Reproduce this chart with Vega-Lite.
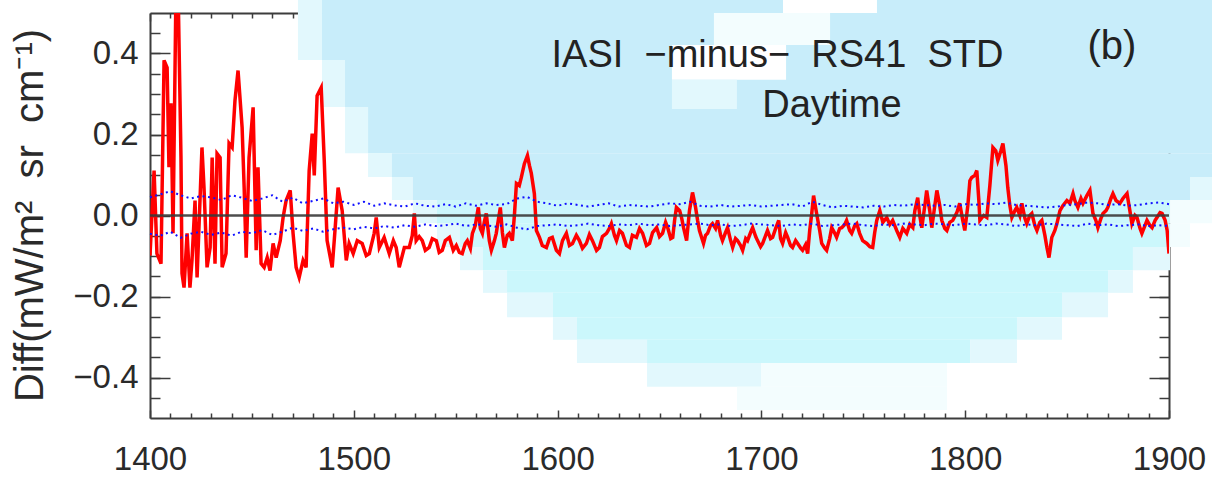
{
  "$schema": "https://vega.github.io/schema/vega-lite/v6.json",
  "width": 1019,
  "height": 405,
  "autosize": {"type": "none"},
  "padding": {"left": 150, "top": 13, "right": 43, "bottom": 61},
  "background": "white",
  "config": {
    "view": {"stroke": null},
    "axis": {
      "grid": false,
      "zindex": 1,
      "domainColor": "#3c3c3c",
      "domainWidth": 2,
      "tickColor": "#3c3c3c",
      "tickWidth": 1.5,
      "labelFont": "Liberation Sans, sans-serif",
      "labelFontSize": 33,
      "labelColor": "#2a2a2a",
      "labelFlush": false,
      "labelOverlap": false,
      "labelBound": false
    }
  },
  "datasets": {
    "bg": [
      {"x": 1472.6, "x2": 1484.4, "y": 0.384, "y2": 0.532, "s": "light"},
      {"x": 1484.4, "x2": 1921.1, "y": 0.384, "y2": 0.532, "s": "blue"},
      {"x": 1484.4, "x2": 1495.7, "y": 0.268, "y2": 0.384, "s": "light"},
      {"x": 1495.7, "x2": 1921.1, "y": 0.268, "y2": 0.384, "s": "blue"},
      {"x": 1495.7, "x2": 1507.0, "y": 0.154, "y2": 0.268, "s": "light"},
      {"x": 1507.0, "x2": 1921.1, "y": 0.154, "y2": 0.268, "s": "blue"},
      {"x": 1507.0, "x2": 1518.7, "y": 0.095, "y2": 0.154, "s": "light"},
      {"x": 1518.7, "x2": 1921.1, "y": 0.095, "y2": 0.154, "s": "blue"},
      {"x": 1518.7, "x2": 1529.0, "y": 0.038, "y2": 0.095, "s": "light"},
      {"x": 1529.0, "x2": 1910.3, "y": 0.038, "y2": 0.095, "s": "blue"},
      {"x": 1910.3, "x2": 1921.1, "y": 0.038, "y2": 0.095, "s": "light"},
      {"x": 1529.0, "x2": 1540.8, "y": -0.019, "y2": 0.038, "s": "light"},
      {"x": 1540.8, "x2": 1900.5, "y": -0.019, "y2": 0.038, "s": "blue2"},
      {"x": 1900.5, "x2": 1921.1, "y": -0.019, "y2": 0.038, "s": "pale"},
      {"x": 1540.8, "x2": 1552.1, "y": -0.078, "y2": -0.019, "s": "light"},
      {"x": 1552.1, "x2": 1900.5, "y": -0.078, "y2": -0.019, "s": "blue2"},
      {"x": 1900.5, "x2": 1910.3, "y": -0.078, "y2": -0.019, "s": "pale"},
      {"x": 1552.1, "x2": 1563.4, "y": -0.135, "y2": -0.078, "s": "light"},
      {"x": 1563.4, "x2": 1882.3, "y": -0.135, "y2": -0.078, "s": "blue2"},
      {"x": 1882.3, "x2": 1900.5, "y": -0.135, "y2": -0.078, "s": "light"},
      {"x": 1563.4, "x2": 1575.2, "y": -0.191, "y2": -0.135, "s": "light"},
      {"x": 1575.2, "x2": 1870.1, "y": -0.191, "y2": -0.135, "s": "blue2"},
      {"x": 1870.1, "x2": 1882.3, "y": -0.191, "y2": -0.135, "s": "light"},
      {"x": 1575.2, "x2": 1597.7, "y": -0.251, "y2": -0.191, "s": "light"},
      {"x": 1597.7, "x2": 1847.5, "y": -0.251, "y2": -0.191, "s": "blue2"},
      {"x": 1847.5, "x2": 1870.1, "y": -0.251, "y2": -0.191, "s": "light"},
      {"x": 1597.7, "x2": 1609.5, "y": -0.307, "y2": -0.251, "s": "light"},
      {"x": 1609.5, "x2": 1825.4, "y": -0.307, "y2": -0.251, "s": "blue2"},
      {"x": 1825.4, "x2": 1847.5, "y": -0.307, "y2": -0.251, "s": "light"},
      {"x": 1609.5, "x2": 1643.9, "y": -0.364, "y2": -0.307, "s": "light"},
      {"x": 1643.9, "x2": 1802.4, "y": -0.364, "y2": -0.307, "s": "blue2"},
      {"x": 1802.4, "x2": 1825.4, "y": -0.364, "y2": -0.307, "s": "light"},
      {"x": 1643.9, "x2": 1700.0, "y": -0.423, "y2": -0.364, "s": "light"},
      {"x": 1700.0, "x2": 1791.1, "y": -0.423, "y2": -0.364, "s": "pale"},
      {"x": 1688.0, "x2": 1791.1, "y": -0.480, "y2": -0.423, "s": "pale"},
      {"x": 1710.6, "x2": 1756.7, "y": 0.500, "y2": 0.532, "s": "white"},
      {"x": 1676.7, "x2": 1733.7, "y": 0.421, "y2": 0.500, "s": "pale"},
      {"x": 1656.1, "x2": 1712.1, "y": 0.335, "y2": 0.421, "s": "white"},
      {"x": 1656.1, "x2": 1688.0, "y": 0.263, "y2": 0.335, "s": "light"}
    ],
    "diff": [
      {"w": 1400.0, "d": -0.099}, {"w": 1402.0, "d": 0.111}, {"w": 1403.4, "d": -0.094}, {"w": 1405.4, "d": -0.119},
      {"w": 1406.9, "d": 0.383}, {"w": 1408.4, "d": 0.365}, {"w": 1409.3, "d": 0.119}, {"w": 1410.3, "d": 0.277},
      {"w": 1411.3, "d": -0.044}, {"w": 1412.8, "d": 0.58}, {"w": 1413.8, "d": 0.556}, {"w": 1415.2, "d": 0.143},
      {"w": 1415.7, "d": -0.143}, {"w": 1416.7, "d": -0.178}, {"w": 1418.2, "d": -0.044}, {"w": 1419.6, "d": -0.178},
      {"w": 1420.6, "d": -0.111}, {"w": 1422.1, "d": 0.037}, {"w": 1423.1, "d": -0.153}, {"w": 1425.5, "d": 0.168},
      {"w": 1426.5, "d": 0.069}, {"w": 1428.0, "d": -0.128}, {"w": 1429.5, "d": -0.079}, {"w": 1430.5, "d": 0.143},
      {"w": 1431.9, "d": -0.119}, {"w": 1432.9, "d": 0.153}, {"w": 1434.4, "d": 0.143}, {"w": 1435.4, "d": -0.128},
      {"w": 1437.3, "d": -0.094}, {"w": 1438.8, "d": 0.178}, {"w": 1440.3, "d": 0.168}, {"w": 1441.7, "d": 0.284},
      {"w": 1443.2, "d": 0.358}, {"w": 1445.2, "d": 0.217}, {"w": 1446.2, "d": 0.069}, {"w": 1447.2, "d": -0.104},
      {"w": 1448.6, "d": 0.143}, {"w": 1450.6, "d": 0.267}, {"w": 1452.1, "d": -0.086}, {"w": 1453.0, "d": 0.119},
      {"w": 1454.5, "d": -0.119}, {"w": 1456.0, "d": -0.128}, {"w": 1457.5, "d": -0.104}, {"w": 1458.9, "d": -0.136},
      {"w": 1460.4, "d": -0.069}, {"w": 1461.9, "d": -0.104}, {"w": 1463.9, "d": -0.062}, {"w": 1465.3, "d": -0.005},
      {"w": 1466.8, "d": 0.037}, {"w": 1468.8, "d": 0.062}, {"w": 1470.2, "d": -0.044}, {"w": 1471.7, "d": -0.128},
      {"w": 1473.2, "d": -0.153}, {"w": 1475.1, "d": -0.111}, {"w": 1476.6, "d": -0.128}, {"w": 1478.1, "d": 0.111},
      {"w": 1479.6, "d": 0.202}, {"w": 1480.6, "d": 0.099}, {"w": 1482.0, "d": 0.296}, {"w": 1484.0, "d": 0.316},
      {"w": 1485.5, "d": 0.136}, {"w": 1486.9, "d": -0.062}, {"w": 1489.4, "d": -0.128}, {"w": 1490.4, "d": -0.062},
      {"w": 1492.3, "d": 0.069}, {"w": 1494.3, "d": 0.012}, {"w": 1496.3, "d": -0.111}, {"w": 1497.7, "d": -0.069},
      {"w": 1499.7, "d": -0.094}, {"w": 1501.7, "d": -0.062}, {"w": 1504.1, "d": -0.069}, {"w": 1506.1, "d": -0.099},
      {"w": 1507.6, "d": -0.094}, {"w": 1510.0, "d": -0.044}, {"w": 1511.0, "d": -0.005}, {"w": 1512.5, "d": -0.079},
      {"w": 1514.9, "d": -0.054}, {"w": 1517.4, "d": -0.094}, {"w": 1519.4, "d": -0.062}, {"w": 1520.8, "d": -0.079},
      {"w": 1522.3, "d": -0.128}, {"w": 1524.8, "d": -0.079}, {"w": 1527.2, "d": -0.079}, {"w": 1528.7, "d": -0.049},
      {"w": 1529.7, "d": 0.005}, {"w": 1530.6, "d": -0.062}, {"w": 1532.1, "d": -0.052}, {"w": 1533.6, "d": -0.062},
      {"w": 1535.1, "d": -0.086}, {"w": 1537.0, "d": -0.079}, {"w": 1538.5, "d": -0.057}, {"w": 1540.5, "d": -0.062},
      {"w": 1541.9, "d": -0.091}, {"w": 1543.4, "d": -0.086}, {"w": 1544.9, "d": -0.062}, {"w": 1546.9, "d": -0.054},
      {"w": 1548.8, "d": -0.086}, {"w": 1550.3, "d": -0.074}, {"w": 1551.8, "d": -0.091}, {"w": 1553.2, "d": -0.094},
      {"w": 1554.7, "d": -0.069}, {"w": 1555.7, "d": -0.062}, {"w": 1557.2, "d": -0.081}, {"w": 1558.2, "d": -0.044},
      {"w": 1559.6, "d": -0.025}, {"w": 1561.1, "d": 0.020}, {"w": 1562.1, "d": -0.032}, {"w": 1563.1, "d": -0.044},
      {"w": 1564.0, "d": -0.017}, {"w": 1565.0, "d": 0.005}, {"w": 1566.5, "d": -0.062}, {"w": 1567.5, "d": -0.086},
      {"w": 1569.0, "d": -0.062}, {"w": 1569.9, "d": -0.044}, {"w": 1570.9, "d": -0.012}, {"w": 1571.9, "d": 0.020},
      {"w": 1572.9, "d": -0.042}, {"w": 1573.9, "d": -0.079}, {"w": 1575.3, "d": -0.049}, {"w": 1576.3, "d": -0.044},
      {"w": 1577.8, "d": -0.062}, {"w": 1578.8, "d": 0.000}, {"w": 1579.8, "d": 0.079}, {"w": 1581.2, "d": 0.074},
      {"w": 1582.2, "d": 0.094}, {"w": 1583.7, "d": 0.128}, {"w": 1585.2, "d": 0.148}, {"w": 1586.2, "d": 0.123},
      {"w": 1587.1, "d": 0.104}, {"w": 1588.6, "d": 0.054}, {"w": 1589.6, "d": -0.037}, {"w": 1591.1, "d": -0.054},
      {"w": 1592.5, "d": -0.074}, {"w": 1594.5, "d": -0.079}, {"w": 1596.0, "d": -0.057}, {"w": 1597.4, "d": -0.054},
      {"w": 1599.4, "d": -0.086}, {"w": 1600.9, "d": -0.094}, {"w": 1602.4, "d": -0.062}, {"w": 1604.3, "d": -0.044},
      {"w": 1605.8, "d": -0.074}, {"w": 1607.3, "d": -0.069}, {"w": 1609.2, "d": -0.049}, {"w": 1610.7, "d": -0.062},
      {"w": 1612.2, "d": -0.081}, {"w": 1614.1, "d": -0.069}, {"w": 1615.6, "d": -0.047}, {"w": 1617.1, "d": -0.062},
      {"w": 1619.1, "d": -0.086}, {"w": 1620.5, "d": -0.079}, {"w": 1622.0, "d": -0.052}, {"w": 1624.0, "d": -0.044},
      {"w": 1625.4, "d": -0.032}, {"w": 1626.4, "d": -0.020}, {"w": 1627.9, "d": -0.049}, {"w": 1628.9, "d": -0.062},
      {"w": 1630.4, "d": -0.037}, {"w": 1631.8, "d": -0.044}, {"w": 1633.8, "d": -0.074}, {"w": 1635.3, "d": -0.079},
      {"w": 1636.7, "d": -0.049}, {"w": 1638.7, "d": -0.054}, {"w": 1640.2, "d": -0.032}, {"w": 1641.7, "d": -0.044},
      {"w": 1643.6, "d": -0.074}, {"w": 1645.1, "d": -0.069}, {"w": 1646.6, "d": -0.042}, {"w": 1648.6, "d": -0.030},
      {"w": 1650.0, "d": -0.052}, {"w": 1651.5, "d": -0.044}, {"w": 1653.0, "d": -0.017}, {"w": 1654.0, "d": -0.030},
      {"w": 1655.5, "d": -0.057}, {"w": 1656.5, "d": -0.054}, {"w": 1657.4, "d": -0.012}, {"w": 1658.3, "d": 0.020},
      {"w": 1659.9, "d": 0.012}, {"w": 1660.9, "d": -0.007}, {"w": 1661.8, "d": -0.030}, {"w": 1663.3, "d": -0.062},
      {"w": 1664.7, "d": 0.012}, {"w": 1666.2, "d": 0.057}, {"w": 1667.7, "d": 0.020}, {"w": 1668.7, "d": -0.012},
      {"w": 1669.6, "d": -0.037}, {"w": 1671.6, "d": -0.069}, {"w": 1672.6, "d": -0.049}, {"w": 1673.6, "d": -0.044},
      {"w": 1675.0, "d": -0.025}, {"w": 1676.0, "d": -0.020}, {"w": 1677.5, "d": -0.032}, {"w": 1678.5, "d": -0.012},
      {"w": 1680.0, "d": -0.049}, {"w": 1680.9, "d": -0.062}, {"w": 1682.4, "d": -0.042}, {"w": 1683.4, "d": -0.030},
      {"w": 1684.9, "d": -0.062}, {"w": 1685.9, "d": -0.079}, {"w": 1687.3, "d": -0.057}, {"w": 1688.3, "d": -0.062},
      {"w": 1689.8, "d": -0.074}, {"w": 1690.8, "d": -0.086}, {"w": 1692.3, "d": -0.057}, {"w": 1693.2, "d": -0.062},
      {"w": 1694.7, "d": -0.042}, {"w": 1695.7, "d": -0.030}, {"w": 1697.2, "d": -0.052}, {"w": 1698.1, "d": -0.062},
      {"w": 1699.6, "d": -0.077}, {"w": 1700.6, "d": -0.069}, {"w": 1702.1, "d": -0.049}, {"w": 1703.0, "d": -0.037},
      {"w": 1704.5, "d": -0.057}, {"w": 1705.5, "d": -0.054}, {"w": 1707.0, "d": -0.032}, {"w": 1708.5, "d": -0.012},
      {"w": 1709.4, "d": -0.057}, {"w": 1710.4, "d": -0.069}, {"w": 1711.9, "d": -0.042}, {"w": 1712.9, "d": -0.054},
      {"w": 1714.3, "d": -0.074}, {"w": 1715.3, "d": -0.079}, {"w": 1716.8, "d": -0.062}, {"w": 1717.8, "d": -0.069},
      {"w": 1719.3, "d": -0.081}, {"w": 1720.2, "d": -0.086}, {"w": 1721.7, "d": -0.072}, {"w": 1722.7, "d": -0.094},
      {"w": 1723.7, "d": -0.037}, {"w": 1724.7, "d": 0.005}, {"w": 1725.6, "d": 0.049}, {"w": 1727.1, "d": 0.005},
      {"w": 1728.6, "d": -0.037}, {"w": 1729.6, "d": -0.069}, {"w": 1731.1, "d": -0.081}, {"w": 1732.0, "d": -0.086},
      {"w": 1733.5, "d": -0.057}, {"w": 1734.5, "d": -0.030}, {"w": 1736.0, "d": -0.044}, {"w": 1736.9, "d": -0.054},
      {"w": 1738.4, "d": -0.032}, {"w": 1739.4, "d": -0.030}, {"w": 1740.9, "d": -0.022}, {"w": 1741.8, "d": -0.012},
      {"w": 1743.3, "d": -0.037}, {"w": 1744.3, "d": -0.044}, {"w": 1745.8, "d": -0.025}, {"w": 1746.8, "d": -0.020},
      {"w": 1748.2, "d": -0.044}, {"w": 1749.7, "d": -0.062}, {"w": 1751.7, "d": -0.069}, {"w": 1753.2, "d": -0.077},
      {"w": 1754.6, "d": -0.079}, {"w": 1755.6, "d": -0.042}, {"w": 1756.6, "d": -0.012}, {"w": 1758.1, "d": 0.012},
      {"w": 1759.6, "d": -0.017}, {"w": 1761.5, "d": -0.005}, {"w": 1763.0, "d": -0.022}, {"w": 1764.4, "d": -0.012},
      {"w": 1766.4, "d": -0.037}, {"w": 1767.9, "d": -0.054}, {"w": 1769.4, "d": -0.032}, {"w": 1771.3, "d": -0.044},
      {"w": 1772.8, "d": -0.022}, {"w": 1774.3, "d": -0.030}, {"w": 1775.3, "d": 0.012}, {"w": 1776.7, "d": 0.044},
      {"w": 1777.7, "d": 0.000}, {"w": 1778.7, "d": -0.030}, {"w": 1780.2, "d": 0.025}, {"w": 1781.1, "d": 0.062},
      {"w": 1782.6, "d": 0.012}, {"w": 1783.6, "d": -0.030}, {"w": 1785.1, "d": 0.025}, {"w": 1786.1, "d": 0.062},
      {"w": 1787.5, "d": 0.025}, {"w": 1788.5, "d": -0.012}, {"w": 1790.0, "d": -0.032}, {"w": 1791.0, "d": -0.037},
      {"w": 1792.4, "d": -0.017}, {"w": 1793.9, "d": -0.012}, {"w": 1795.9, "d": 0.007}, {"w": 1797.3, "d": 0.030},
      {"w": 1798.8, "d": -0.012}, {"w": 1799.8, "d": -0.037}, {"w": 1801.3, "d": 0.025}, {"w": 1802.3, "d": 0.086},
      {"w": 1803.2, "d": 0.094}, {"w": 1804.7, "d": 0.099}, {"w": 1805.7, "d": 0.111}, {"w": 1806.7, "d": 0.037},
      {"w": 1807.2, "d": -0.012}, {"w": 1809.1, "d": 0.000}, {"w": 1810.6, "d": -0.005}, {"w": 1812.1, "d": 0.074},
      {"w": 1813.6, "d": 0.168}, {"w": 1815.0, "d": 0.160}, {"w": 1816.0, "d": 0.136}, {"w": 1817.5, "d": 0.160},
      {"w": 1818.5, "d": 0.178}, {"w": 1820.0, "d": 0.123}, {"w": 1820.9, "d": 0.069}, {"w": 1821.9, "d": 0.025},
      {"w": 1822.9, "d": -0.005}, {"w": 1824.4, "d": 0.012}, {"w": 1825.3, "d": 0.020}, {"w": 1826.8, "d": 0.000},
      {"w": 1827.8, "d": 0.030}, {"w": 1829.3, "d": -0.007}, {"w": 1830.2, "d": -0.020}, {"w": 1831.7, "d": 0.000},
      {"w": 1832.7, "d": 0.005}, {"w": 1834.2, "d": -0.025}, {"w": 1835.2, "d": -0.037}, {"w": 1836.6, "d": -0.017},
      {"w": 1837.6, "d": -0.012}, {"w": 1839.1, "d": -0.049}, {"w": 1840.1, "d": -0.079}, {"w": 1841.1, "d": -0.104},
      {"w": 1842.5, "d": -0.054}, {"w": 1844.0, "d": -0.037}, {"w": 1845.0, "d": -0.020}, {"w": 1846.5, "d": 0.012},
      {"w": 1848.0, "d": 0.025}, {"w": 1849.9, "d": 0.037}, {"w": 1851.4, "d": 0.030}, {"w": 1852.9, "d": 0.054},
      {"w": 1853.8, "d": 0.037}, {"w": 1855.3, "d": 0.020}, {"w": 1856.8, "d": 0.042}, {"w": 1857.8, "d": 0.030},
      {"w": 1859.7, "d": 0.049}, {"w": 1861.2, "d": 0.062}, {"w": 1862.7, "d": 0.005}, {"w": 1864.1, "d": -0.012},
      {"w": 1865.1, "d": -0.030}, {"w": 1866.6, "d": -0.007}, {"w": 1867.6, "d": 0.005}, {"w": 1869.1, "d": 0.012},
      {"w": 1870.0, "d": 0.020}, {"w": 1871.5, "d": 0.042}, {"w": 1872.5, "d": 0.054}, {"w": 1874.0, "d": 0.037},
      {"w": 1875.9, "d": 0.030}, {"w": 1877.4, "d": 0.042}, {"w": 1879.4, "d": 0.054}, {"w": 1880.8, "d": 0.012},
      {"w": 1881.8, "d": -0.020}, {"w": 1883.3, "d": 0.000}, {"w": 1884.3, "d": -0.005}, {"w": 1885.8, "d": -0.032},
      {"w": 1886.7, "d": -0.044}, {"w": 1888.2, "d": -0.025}, {"w": 1889.2, "d": -0.012}, {"w": 1890.7, "d": -0.025},
      {"w": 1891.7, "d": -0.030}, {"w": 1893.2, "d": -0.012}, {"w": 1894.1, "d": -0.005}, {"w": 1895.6, "d": 0.007},
      {"w": 1896.6, "d": 0.005}, {"w": 1898.1, "d": -0.012}, {"w": 1899.1, "d": -0.037}, {"w": 1900.0, "d": -0.094}
    ],
    "std": [
      {"w": 1400, "hi": 0.045, "lo": -0.045}, {"w": 1405, "hi": 0.052, "lo": -0.050}, {"w": 1410, "hi": 0.060, "lo": -0.040},
      {"w": 1415, "hi": 0.050, "lo": -0.055}, {"w": 1420, "hi": 0.042, "lo": -0.045}, {"w": 1425, "hi": 0.048, "lo": -0.040},
      {"w": 1430, "hi": 0.045, "lo": -0.048}, {"w": 1435, "hi": 0.038, "lo": -0.042}, {"w": 1440, "hi": 0.050, "lo": -0.050},
      {"w": 1445, "hi": 0.044, "lo": -0.040}, {"w": 1450, "hi": 0.036, "lo": -0.044}, {"w": 1455, "hi": 0.042, "lo": -0.036},
      {"w": 1460, "hi": 0.050, "lo": -0.048}, {"w": 1465, "hi": 0.034, "lo": -0.040}, {"w": 1470, "hi": 0.044, "lo": -0.030},
      {"w": 1475, "hi": 0.030, "lo": -0.038}, {"w": 1480, "hi": 0.036, "lo": -0.032}, {"w": 1485, "hi": 0.042, "lo": -0.040},
      {"w": 1490, "hi": 0.030, "lo": -0.034}, {"w": 1495, "hi": 0.034, "lo": -0.030}, {"w": 1500, "hi": 0.026, "lo": -0.034},
      {"w": 1505, "hi": 0.034, "lo": -0.028}, {"w": 1510, "hi": 0.024, "lo": -0.032}, {"w": 1515, "hi": 0.030, "lo": -0.026},
      {"w": 1520, "hi": 0.025, "lo": -0.030}, {"w": 1525, "hi": 0.022, "lo": -0.024}, {"w": 1530, "hi": 0.030, "lo": -0.028},
      {"w": 1535, "hi": 0.024, "lo": -0.022}, {"w": 1540, "hi": 0.022, "lo": -0.026}, {"w": 1545, "hi": 0.028, "lo": -0.024},
      {"w": 1550, "hi": 0.022, "lo": -0.020}, {"w": 1555, "hi": 0.030, "lo": -0.026}, {"w": 1560, "hi": 0.024, "lo": -0.022},
      {"w": 1565, "hi": 0.030, "lo": -0.024}, {"w": 1570, "hi": 0.026, "lo": -0.028}, {"w": 1575, "hi": 0.028, "lo": -0.022},
      {"w": 1580, "hi": 0.042, "lo": -0.030}, {"w": 1585, "hi": 0.046, "lo": -0.034}, {"w": 1590, "hi": 0.034, "lo": -0.026},
      {"w": 1595, "hi": 0.030, "lo": -0.024}, {"w": 1600, "hi": 0.024, "lo": -0.022}, {"w": 1605, "hi": 0.030, "lo": -0.026},
      {"w": 1610, "hi": 0.026, "lo": -0.024}, {"w": 1615, "hi": 0.022, "lo": -0.020}, {"w": 1620, "hi": 0.026, "lo": -0.024},
      {"w": 1625, "hi": 0.030, "lo": -0.026}, {"w": 1630, "hi": 0.022, "lo": -0.022}, {"w": 1635, "hi": 0.026, "lo": -0.024},
      {"w": 1640, "hi": 0.024, "lo": -0.020}, {"w": 1645, "hi": 0.022, "lo": -0.024}, {"w": 1650, "hi": 0.026, "lo": -0.022},
      {"w": 1655, "hi": 0.030, "lo": -0.026}, {"w": 1660, "hi": 0.028, "lo": -0.024}, {"w": 1665, "hi": 0.034, "lo": -0.022},
      {"w": 1670, "hi": 0.024, "lo": -0.020}, {"w": 1675, "hi": 0.022, "lo": -0.024}, {"w": 1680, "hi": 0.026, "lo": -0.022},
      {"w": 1685, "hi": 0.022, "lo": -0.026}, {"w": 1690, "hi": 0.024, "lo": -0.024}, {"w": 1695, "hi": 0.026, "lo": -0.020},
      {"w": 1700, "hi": 0.022, "lo": -0.022}, {"w": 1705, "hi": 0.024, "lo": -0.024}, {"w": 1710, "hi": 0.026, "lo": -0.026},
      {"w": 1715, "hi": 0.028, "lo": -0.022}, {"w": 1720, "hi": 0.022, "lo": -0.024}, {"w": 1725, "hi": 0.034, "lo": -0.020},
      {"w": 1730, "hi": 0.026, "lo": -0.026}, {"w": 1735, "hi": 0.020, "lo": -0.024}, {"w": 1740, "hi": 0.024, "lo": -0.022},
      {"w": 1745, "hi": 0.022, "lo": -0.020}, {"w": 1750, "hi": 0.020, "lo": -0.024}, {"w": 1755, "hi": 0.024, "lo": -0.026},
      {"w": 1760, "hi": 0.022, "lo": -0.022}, {"w": 1765, "hi": 0.026, "lo": -0.024}, {"w": 1770, "hi": 0.024, "lo": -0.020},
      {"w": 1775, "hi": 0.028, "lo": -0.022}, {"w": 1780, "hi": 0.026, "lo": -0.024}, {"w": 1785, "hi": 0.024, "lo": -0.020},
      {"w": 1790, "hi": 0.026, "lo": -0.022}, {"w": 1795, "hi": 0.022, "lo": -0.024}, {"w": 1800, "hi": 0.028, "lo": -0.020},
      {"w": 1805, "hi": 0.026, "lo": -0.022}, {"w": 1810, "hi": 0.030, "lo": -0.024}, {"w": 1815, "hi": 0.028, "lo": -0.020},
      {"w": 1820, "hi": 0.032, "lo": -0.022}, {"w": 1825, "hi": 0.026, "lo": -0.026}, {"w": 1830, "hi": 0.024, "lo": -0.022},
      {"w": 1835, "hi": 0.022, "lo": -0.024}, {"w": 1840, "hi": 0.020, "lo": -0.020}, {"w": 1845, "hi": 0.022, "lo": -0.022},
      {"w": 1850, "hi": 0.026, "lo": -0.024}, {"w": 1855, "hi": 0.028, "lo": -0.026}, {"w": 1860, "hi": 0.032, "lo": -0.020},
      {"w": 1865, "hi": 0.030, "lo": -0.024}, {"w": 1870, "hi": 0.026, "lo": -0.022}, {"w": 1875, "hi": 0.028, "lo": -0.026},
      {"w": 1880, "hi": 0.024, "lo": -0.024}, {"w": 1885, "hi": 0.026, "lo": -0.022}, {"w": 1890, "hi": 0.030, "lo": -0.026},
      {"w": 1895, "hi": 0.032, "lo": -0.024}, {"w": 1900, "hi": 0.028, "lo": -0.026}
    ]
  },
  "layer": [
    {
      "data": {"name": "bg"},
      "mark": {"type": "rect", "strokeWidth": 0},
      "encoding": {
        "x": {"field": "x", "type": "quantitative", "scale": {"domain": [1400, 1900], "nice": false, "zero": false},
              "axis": {"orient": "bottom", "values": [1400, 1500, 1600, 1700, 1800, 1900], "format": "d", "tickSize": -8, "labelPadding": 33, "title": null, "domain": true}},
        "x2": {"field": "x2"},
        "y": {"field": "y", "type": "quantitative", "scale": {"domain": [-0.5, 0.5], "nice": false, "zero": false},
              "axis": {"orient": "left", "values": [-0.4, -0.2, 0, 0.2, 0.4], "format": ".1f", "tickSize": -20, "labelPadding": 32, "domain": true,
                       "title": "Diff(mW/m²\u00a0\u00a0sr\u00a0\u00a0cm⁻¹)", "titleFont": "Liberation Sans, sans-serif", "titleFontSize": 40, "titleFontWeight": "normal", "titleColor": "#2a2a2a",
                       "titleX": -100, "titleY": 202, "titleAngle": -90, "titleBaseline": "bottom", "titleAlign": "center"}},
        "y2": {"field": "y2"},
        "color": {"field": "s", "type": "nominal", "legend": null,
                  "scale": {"domain": ["blue", "blue2", "light", "pale", "white"], "range": ["#c8edfa", "#cbf7fc", "#e2f8fd", "#f3fdfe", "#ffffff"]}}
      }
    },
    {
      "data": {"name": "diff"},
      "mark": {"type": "line", "color": "#ff0000", "strokeWidth": 3.5, "clip": true},
      "encoding": {
        "x": {"field": "w", "type": "quantitative", "scale": {"domain": [1400, 1900], "nice": false, "zero": false},
              "axis": {"orient": "bottom", "values": [1410, 1420, 1430, 1440, 1450, 1460, 1470, 1480, 1490, 1510, 1520, 1530, 1540, 1550, 1560, 1570, 1580, 1590, 1610, 1620, 1630, 1640, 1650, 1660, 1670, 1680, 1690, 1710, 1720, 1730, 1740, 1750, 1760, 1770, 1780, 1790, 1810, 1820, 1830, 1840, 1850, 1860, 1870, 1880, 1890], "tickSize": -5, "labels": false, "domain": false, "title": null}},
        "y": {"field": "d", "type": "quantitative", "scale": {"domain": [-0.5, 0.5], "nice": false, "zero": false},
              "axis": {"orient": "left", "values": [-0.45, -0.4, -0.35, -0.3, -0.25, -0.2, -0.15, -0.1, -0.05, 0, 0.05, 0.1, 0.15, 0.2, 0.25, 0.3, 0.35, 0.4, 0.45], "tickSize": -10, "labels": false, "domain": false, "title": null}}
      }
    },
    {
      "data": {"name": "std"},
      "mark": {"type": "line", "color": "#1010ff", "strokeWidth": 2, "strokeDash": [2, 3.5]},
      "encoding": {
        "x": {"field": "w", "type": "quantitative", "scale": {"domain": [1400, 1900], "nice": false, "zero": false},
              "axis": {"orient": "top", "values": [1400, 1500, 1600, 1700, 1800, 1900], "tickSize": -8, "labels": false, "domain": true, "title": null}},
        "y": {"field": "hi", "type": "quantitative", "scale": {"domain": [-0.5, 0.5], "nice": false, "zero": false},
              "axis": {"orient": "right", "values": [-0.4, -0.2, 0, 0.2, 0.4], "tickSize": -20, "labels": false, "domain": true, "title": null}}
      }
    },
    {
      "data": {"name": "std"},
      "mark": {"type": "line", "color": "#1010ff", "strokeWidth": 2, "strokeDash": [2, 3.5]},
      "encoding": {
        "x": {"field": "w", "type": "quantitative", "scale": {"domain": [1400, 1900], "nice": false, "zero": false},
              "axis": {"orient": "top", "values": [1410, 1420, 1430, 1440, 1450, 1460, 1470, 1480, 1490, 1510, 1520, 1530, 1540, 1550, 1560, 1570, 1580, 1590, 1610, 1620, 1630, 1640, 1650, 1660, 1670, 1680, 1690, 1710, 1720, 1730, 1740, 1750, 1760, 1770, 1780, 1790, 1810, 1820, 1830, 1840, 1850, 1860, 1870, 1880, 1890], "tickSize": -5, "labels": false, "domain": false, "title": null}},
        "y": {"field": "lo", "type": "quantitative", "scale": {"domain": [-0.5, 0.5], "nice": false, "zero": false},
              "axis": {"orient": "right", "values": [-0.45, -0.4, -0.35, -0.3, -0.25, -0.2, -0.15, -0.1, -0.05, 0, 0.05, 0.1, 0.15, 0.2, 0.25, 0.3, 0.35, 0.4, 0.45], "tickSize": -10, "labels": false, "domain": false, "title": null}}
      }
    },
    {
      "data": {"values": [{"v": 0}]},
      "mark": {"type": "rule", "color": "#3a3a3a", "strokeWidth": 2.5, "opacity": 0.9},
      "encoding": {
        "y": {"field": "v", "type": "quantitative", "scale": {"domain": [-0.5, 0.5], "nice": false, "zero": false}, "axis": null}
      }
    },
    {
      "data": {"values": [{}]},
      "mark": {"type": "text", "text": "IASI\u00a0\u00a0−minus−\u00a0\u00a0RS41\u00a0\u00a0STD", "font": "Liberation Sans, sans-serif", "fontSize": 38, "color": "#222222", "align": "center", "baseline": "alphabetic"},
      "encoding": {
        "x": {"datum": 1707.9, "type": "quantitative", "axis": null},
        "y": {"datum": 0.367, "type": "quantitative", "axis": null}
      }
    },
    {
      "data": {"values": [{}]},
      "mark": {"type": "text", "text": "Daytime", "font": "Liberation Sans, sans-serif", "fontSize": 38, "color": "#222222", "align": "center", "baseline": "alphabetic"},
      "encoding": {
        "x": {"datum": 1734.6, "type": "quantitative", "axis": null},
        "y": {"datum": 0.243, "type": "quantitative", "axis": null}
      }
    },
    {
      "data": {"values": [{}]},
      "mark": {"type": "text", "text": "(b)", "font": "Liberation Sans, sans-serif", "fontSize": 40, "color": "#222222", "align": "center", "baseline": "alphabetic"},
      "encoding": {
        "x": {"datum": 1872, "type": "quantitative", "axis": null},
        "y": {"datum": 0.386, "type": "quantitative", "axis": null}
      }
    }
  ],
  "resolve": {"axis": {"x": "independent", "y": "independent"}}
}
